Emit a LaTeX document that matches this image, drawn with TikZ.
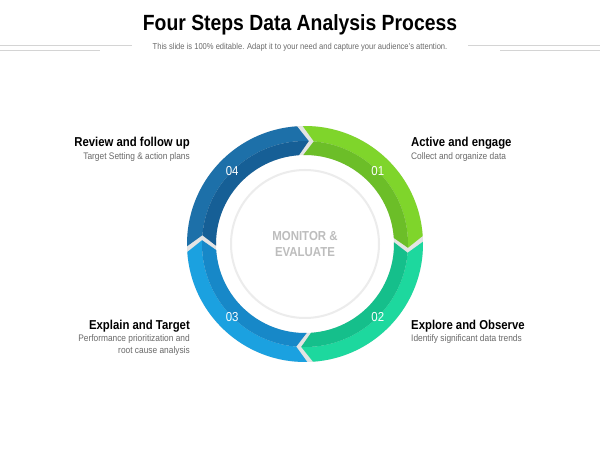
\documentclass[tikz,border=0pt]{standalone}
\usepackage{fontspec}
\setmainfont[FakeStretch=0.88]{Liberation Sans}
\definecolor{gA}{HTML}{7FD52B}\definecolor{gAd}{HTML}{6CBE28}
\definecolor{gB}{HTML}{1DD89E}\definecolor{gBd}{HTML}{15BF8B}
\definecolor{bC}{HTML}{1BA1E0}\definecolor{bCd}{HTML}{1788C8}
\definecolor{bD}{HTML}{1D70A9}\definecolor{bDd}{HTML}{165F96}
\definecolor{gapgray}{HTML}{E4E4E4}
\definecolor{linegray}{HTML}{D4D4D4}
\definecolor{subgray}{HTML}{6A6A6A}
\definecolor{centergray}{HTML}{BDBDBD}
\def\rOut{118pt}\def\rMid{103pt}\def\rIn{89pt}
\def\gapang{1.4}\def\chevang{6}
\newcommand\ringseg[4]{%
  \pgfmathsetmacro\segS{#1-\gapang}\pgfmathsetmacro\segE{#2+\gapang}%
  \pgfmathsetmacro\segSd{\segS-\chevang}\pgfmathsetmacro\segEd{\segE-\chevang}%
  \fill[#3] (\segS:\rOut) arc[start angle=\segS,end angle=\segE,radius=\rOut]
     -- (\segEd:\rMid) arc[start angle=\segEd,end angle=\segSd,radius=\rMid] -- cycle;
  \fill[#4] (\segSd:\rMid) arc[start angle=\segSd,end angle=\segEd,radius=\rMid]
     -- (\segE:\rIn) arc[start angle=\segE,end angle=\segS,radius=\rIn] -- cycle;
}
\tikzset{
  head/.style={font=\bfseries\fontsize{12.9}{15}\selectfont, text=black, inner sep=0pt},
  sub/.style={font=\fontsize{9.5}{12}\selectfont, text=subgray, inner sep=0pt},
  num/.style={font=\fontsize{13}{15}\selectfont, text=white, inner sep=0pt},
  rule/.style={draw=linegray, line width=1.1pt}
}
\begin{document}
\begin{tikzpicture}[x=1pt,y=1pt]
\useasboundingbox (0,0) rectangle (600,450);
\fill[white] (0,0) rectangle (600,450);
% title
\node[inner sep=0pt, font=\bfseries\fontsize{22}{26}\selectfont] (title) at (300,425) {Four Steps Data Analysis Process};
\node[inner sep=0pt, font=\fontsize{8.6}{10}\selectfont, text=subgray] (subtitle) at (300,403) {This slide is 100\% editable. Adapt it to your need and capture your audience's attention.};
\coordinate (l1a) at (0,404.5); \coordinate (l1b) at (132,404.5);
\coordinate (l2a) at (0,399.3); \coordinate (l2b) at (100,399.3);
\coordinate (r1a) at (468,404.5); \coordinate (r1b) at (600,404.5);
\coordinate (r2a) at (500,399.3); \coordinate (r2b) at (600,399.3);
\draw[rule] (l1a) -- (l1b); \draw[rule] (l2a) -- (l2b);
\draw[rule] (r1a) -- (r1b); \draw[rule] (r2a) -- (r2b);
% ring
\begin{scope}[shift={(305,206)}]
  \fill[gapgray, even odd rule] (0,0) circle[radius=\rOut] (0,0) circle[radius=\rIn];
  \ringseg{92.5}{2.5}{gA}{gAd}
  \ringseg{2.5}{-87.5}{gB}{gBd}
  \ringseg{-87.5}{-177.5}{bC}{bCd}
  \ringseg{182.5}{92.5}{bD}{bDd}
  \draw[draw=gapgray!70, line width=2pt] (0,0) circle[radius=74pt];
  \node[num] (n1) at (45:103pt) {01};
  \node[num] (n2) at (-45:103pt) {02};
  \node[num] (n3) at (-135:103pt) {03};
  \node[num] (n4) at (135:103pt) {04};
  \node[inner sep=0pt, align=center, text=centergray, font=\bfseries\fontsize{13}{16}\selectfont] (center) at (0,0) {MONITOR \&\\EVALUATE};
\end{scope}
% labels
\node[head, anchor=east] (h4) at (190,307) {Review and follow up};
\node[sub, anchor=east] (s4) at (190,293) {Target Setting \& action plans};
\node[head, anchor=west] (h1) at (411,307) {Active and engage};
\node[sub, anchor=west] (s1) at (411,293) {Collect and organize data};
\node[head, anchor=east] (h3) at (190,124) {Explain and Target};
\node[sub, anchor=north east, align=right] (s3) at (190,116) {Performance prioritization and\\root cause analysis};
\node[head, anchor=west] (h2) at (411,124) {Explore and Observe};
\node[sub, anchor=west] (s2) at (411,111) {Identify significant data trends};
\end{tikzpicture}
\end{document}
